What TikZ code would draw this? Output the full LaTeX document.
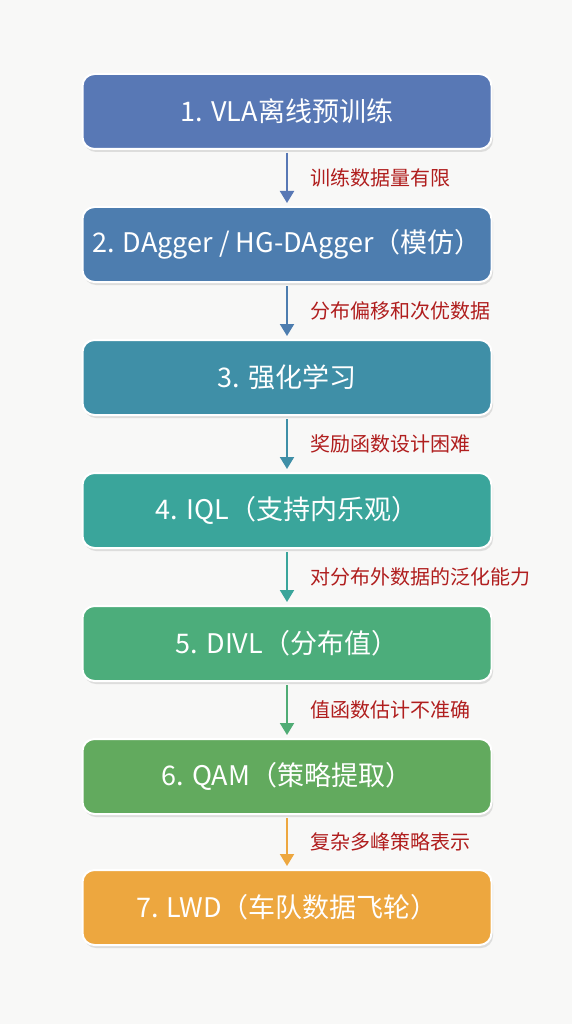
\documentclass[tikz,border=0pt]{standalone}
\usepackage{fontspec}
\setmainfont{Noto Sans CJK SC}
\usetikzlibrary{positioning, shadows, arrows.meta}

\definecolor{bg}{HTML}{F8F8F7}
\definecolor{vlacol}{HTML}{5878B5}
\definecolor{daggercol}{HTML}{4D7DAF}
\definecolor{rlcol}{HTML}{3F8FA7}
\definecolor{iqlcol}{HTML}{3AA59B}
\definecolor{divlcol}{HTML}{4CAD7B}
\definecolor{qamcol}{HTML}{62AA5E}
\definecolor{lwdcol}{HTML}{EDA73F}
\definecolor{issuered}{HTML}{B01E1E}

\begin{document}
\begin{tikzpicture}[x=1pt, y=1pt,
	stage/.style={draw=white, line width=2pt, rounded corners=12pt,
		minimum width=409pt, minimum height=75pt, text=white,
		font=\fontsize{27}{32}\selectfont,
		drop shadow={opacity=0.22, shadow xshift=1.5pt, shadow yshift=-3pt}},
	flow/.style={line width=2pt, -{Triangle[width=14pt, length=12pt]}},
	issue/.style={text=issuered, font=\fontsize{20}{24}\selectfont}]
	\fill[bg] (0, 0) rectangle (572, -1024);
	\useasboundingbox (0, 0) rectangle (572, -1024);
	\node[stage, fill=vlacol] (vla) at (287, -111.5) {1. VLA离线预训练};
	\node[stage, fill=daggercol, below=56pt of vla] (dagger) {2. DAgger / HG-DAgger（模仿）};
	\node[stage, fill=rlcol, below=56pt of dagger] (rl) {3. 强化学习};
	\node[stage, fill=iqlcol, below=56pt of rl] (iql) {4. IQL（支持内乐观）};
	\node[stage, fill=divlcol, below=56pt of iql] (divl) {5. DIVL（分布值）};
	\node[stage, fill=qamcol, below=56pt of divl] (qam) {6. QAM（策略提取）};
	\node[stage, fill=lwdcol, below=54pt of qam] (lwd) {7. LWD（车队数据飞轮）};
	\draw[flow, draw=vlacol] ([yshift=-3pt]vla.south) -- ([yshift=3pt]dagger.north)
		node[midway, issue, right=19pt] {训练数据量有限};
	\draw[flow, draw=daggercol] ([yshift=-3pt]dagger.south) -- ([yshift=3pt]rl.north)
		node[midway, issue, right=19pt] {分布偏移和次优数据};
	\draw[flow, draw=rlcol] ([yshift=-3pt]rl.south) -- ([yshift=3pt]iql.north)
		node[midway, issue, right=19pt] {奖励函数设计困难};
	\draw[flow, draw=iqlcol] ([yshift=-3pt]iql.south) -- ([yshift=3pt]divl.north)
		node[midway, issue, right=19pt] {对分布外数据的泛化能力};
	\draw[flow, draw=divlcol!80!qamcol] ([yshift=-3pt]divl.south) -- ([yshift=3pt]qam.north)
		node[midway, issue, right=19pt] {值函数估计不准确};
	\draw[flow, draw=lwdcol] ([yshift=-3pt]qam.south) -- ([yshift=3pt]lwd.north)
		node[midway, issue, right=19pt] {复杂多峰策略表示};
\end{tikzpicture}
\end{document}
